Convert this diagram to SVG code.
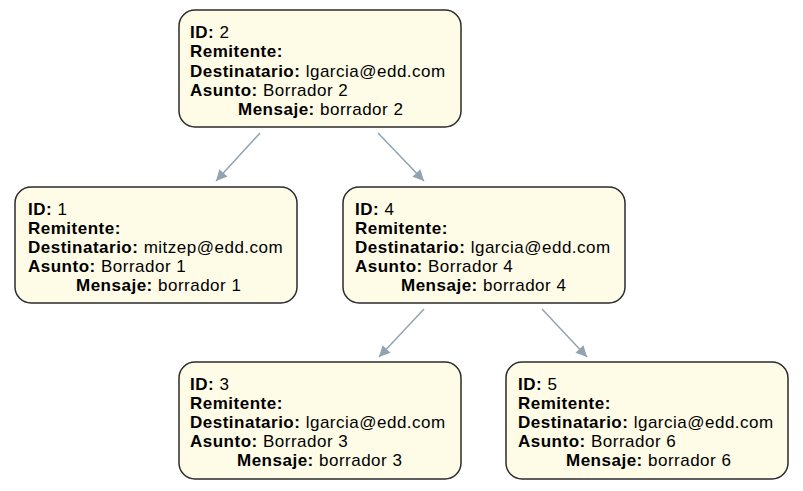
<svg xmlns="http://www.w3.org/2000/svg" width="803" height="491" viewBox="0 0 803 491">
<style>
.box{fill:#fefbe7;stroke:#2b2b2b;stroke-width:1.5}
text{font-family:"Liberation Sans",Arial,sans-serif;font-size:17px;letter-spacing:0.5px;fill:#000}
.b{font-weight:bold}
.edge{stroke:#91a3b0;stroke-width:1.5;fill:none;marker-end:url(#ah)}
</style>
<defs>
<marker id="ah" viewBox="0 0 10 10" refX="10" refY="5" markerWidth="14" markerHeight="11" markerUnits="userSpaceOnUse" orient="auto">
<path d="M0,0 L10,5 L0,10 z" fill="#91a3b0"/>
</marker>
</defs>
<rect width="803" height="491" fill="#fff"/>
<g id="connectors">
<line class="edge" x1="260" y1="133" x2="216" y2="181"/>
<line class="edge" x1="378" y1="133" x2="424" y2="181"/>
<line class="edge" x1="424" y1="309" x2="379" y2="357"/>
<line class="edge" x1="542" y1="309" x2="587" y2="357"/>
</g>
<g id="node2">
<rect class="box" x="179" y="10" width="282" height="117" rx="16"/>
<text x="190" y="38"><tspan class="b">ID:</tspan> 2</text>
<text x="190" y="57"><tspan class="b">Remitente:</tspan></text>
<text x="190" y="76.5"><tspan class="b">Destinatario:</tspan> lgarcia@edd.com</text>
<text x="190" y="96"><tspan class="b">Asunto:</tspan> Borrador 2</text>
<text x="238" y="115"><tspan class="b">Mensaje:</tspan> borrador 2</text>
</g>
<g id="node1">
<rect class="box" x="15" y="187" width="282" height="116" rx="16"/>
<text x="28" y="215"><tspan class="b">ID:</tspan> 1</text>
<text x="28" y="234"><tspan class="b">Remitente:</tspan></text>
<text x="28" y="253"><tspan class="b">Destinatario:</tspan> mitzep@edd.com</text>
<text x="28" y="272"><tspan class="b">Asunto:</tspan> Borrador 1</text>
<text x="76" y="291"><tspan class="b">Mensaje:</tspan> borrador 1</text>
</g>
<g id="node4">
<rect class="box" x="343" y="187" width="282" height="116" rx="16"/>
<text x="355" y="215"><tspan class="b">ID:</tspan> 4</text>
<text x="355" y="234"><tspan class="b">Remitente:</tspan></text>
<text x="355" y="253"><tspan class="b">Destinatario:</tspan> lgarcia@edd.com</text>
<text x="355" y="272"><tspan class="b">Asunto:</tspan> Borrador 4</text>
<text x="401" y="291"><tspan class="b">Mensaje:</tspan> borrador 4</text>
</g>
<g id="node3">
<rect class="box" x="179" y="362" width="282" height="117" rx="16"/>
<text x="190" y="390"><tspan class="b">ID:</tspan> 3</text>
<text x="190" y="409"><tspan class="b">Remitente:</tspan></text>
<text x="190" y="428"><tspan class="b">Destinatario:</tspan> lgarcia@edd.com</text>
<text x="190" y="447"><tspan class="b">Asunto:</tspan> Borrador 3</text>
<text x="237" y="466"><tspan class="b">Mensaje:</tspan> borrador 3</text>
</g>
<g id="node5">
<rect class="box" x="506" y="362" width="282" height="117" rx="16"/>
<text x="518" y="390"><tspan class="b">ID:</tspan> 5</text>
<text x="518" y="409"><tspan class="b">Remitente:</tspan></text>
<text x="518" y="428"><tspan class="b">Destinatario:</tspan> lgarcia@edd.com</text>
<text x="518" y="447"><tspan class="b">Asunto:</tspan> Borrador 6</text>
<text x="566" y="466"><tspan class="b">Mensaje:</tspan> borrador 6</text>
</g>
</svg>
